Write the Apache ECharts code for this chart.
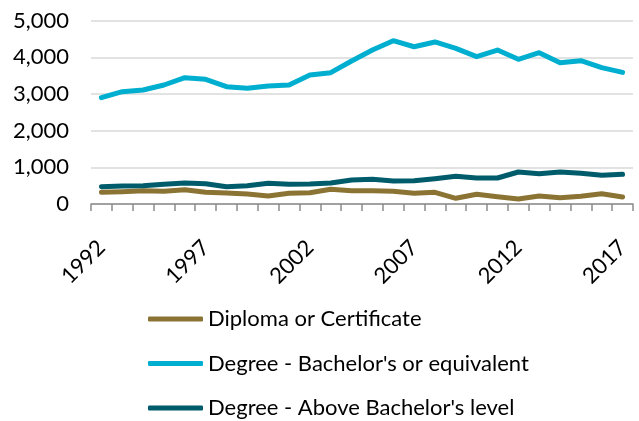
<!DOCTYPE html>
<html>
<head>
<meta charset="utf-8">
<script src="https://cdn.jsdelivr.net/npm/echarts@6/dist/echarts.min.js"></script>
<style>
  html, body { margin: 0; padding: 0; background: #fff; }
  #main { width: 639px; height: 421px; }
</style>
</head>
<body>
<div id="main"></div>
<script>
// years on the x axis
var years = ['1992', '1993', '1994', '1995', '1996', '1997', '1998', '1999', '2000', '2001',
  '2002', '2003', '2004', '2005', '2006', '2007', '2008', '2009', '2010', '2011',
  '2012', '2013', '2014', '2015', '2016', '2017'];

var diploma = [318, 336, 364, 345, 391, 318, 300, 273, 218, 291,
  309, 400, 364, 364, 345, 291, 318, 155, 264, 200,
  136, 218, 173, 209, 282, 191];

var bachelor = [2900, 3063, 3110, 3246, 3446, 3400, 3200, 3156, 3219, 3246,
  3519, 3582, 3900, 4200, 4455, 4290, 4420, 4246, 4020, 4200,
  3947, 4128, 3855, 3910, 3720, 3590];

var aboveBachelor = [472, 490, 500, 537, 573, 555, 472, 500, 564, 537,
  545, 573, 655, 673, 627, 636, 691, 755, 709, 709,
  873, 827, 873, 836, 782, 809];

var names = ['Diploma or Certificate', "Degree - Bachelor's or equivalent", "Degree - Above Bachelor's level"];
var colors = ['#8B7433', '#00AFCF', '#005C6B'];

var chart = echarts.init(document.getElementById('main'), null, { renderer: 'canvas' });

var font = 'Lato, "Open Sans", sans-serif';

function makeLine(name, data, color) {
  return {
    name: name,
    type: 'line',
    data: data,
    symbol: 'none',
    smooth: false,
    lineStyle: { color: color, width: 5, cap: 'round', join: 'round' },
    itemStyle: { color: color },
    emphasis: { disabled: true }
  };
}

var option = {
  backgroundColor: '#ffffff',
  animation: false,
  color: colors,
  grid: { left: 91, right: 6, top: 20.7, bottom: 217 },
  legend: {
    orient: 'vertical',
    left: 148,
    top: 308,
    height: 120,
    padding: 0,
    icon: 'roundRect',
    itemWidth: 55,
    itemHeight: 5,
    itemGap: 22.5,
    textStyle: { fontFamily: font, fontSize: 22, color: '#000' },
    data: names
  },
  xAxis: {
    type: 'category',
    data: years,
    boundaryGap: true,
    axisLine: { lineStyle: { color: '#8c8c8c', width: 1.5 } },
    axisTick: { show: true, interval: 0, length: 7, lineStyle: { color: '#8c8c8c', width: 1.5 } },
    axisLabel: {
      interval: 4,
      rotate: 45,
      margin: 40,
      fontFamily: font,
      fontSize: 22,
      color: '#000'
    },
    splitLine: { show: false }
  },
  yAxis: {
    type: 'value',
    min: 0,
    max: 5000,
    interval: 1000,
    axisLine: { show: false },
    axisTick: { show: false },
    axisLabel: {
      margin: 22,
      fontFamily: font,
      fontSize: 22,
      color: '#000',
      formatter: function (v) { return v.toLocaleString('en-US'); }
    },
    splitLine: { lineStyle: { color: '#d9d9d9', width: 1.5 } }
  },
  series: [
    makeLine(names[0], diploma, colors[0]),
    makeLine(names[1], bachelor, colors[1]),
    makeLine(names[2], aboveBachelor, colors[2])
  ]
};

chart.setOption(option);
</script>
</body>
</html>
